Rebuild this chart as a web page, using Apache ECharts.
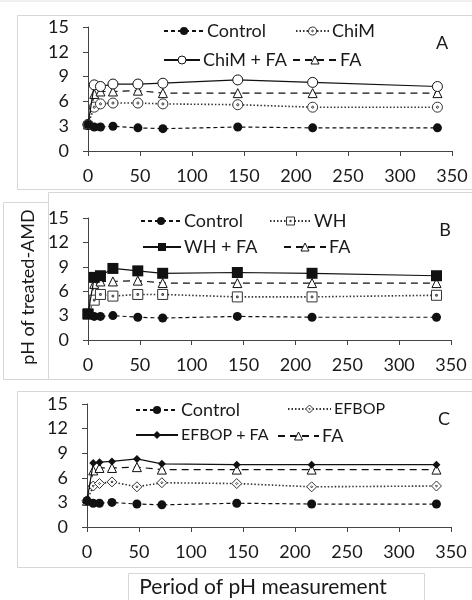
<!DOCTYPE html>
<html>
<head>
<meta charset="utf-8">
<script src="https://cdn.jsdelivr.net/npm/echarts@6/dist/echarts.min.js"></script>
<style>html,body{margin:0;padding:0;background:#fff}#c{width:472px;height:600px}</style>
</head>
<body>
<div id="c"></div>
<script>
// ---- data ----
const hours = [0, 6, 12, 24, 48, 72, 144, 216, 336];
const xTicks = [0, 50, 100, 150, 200, 250, 300, 350];
const yTicks = [0, 3, 6, 9, 12, 15];
const control = [3.2, 2.9, 2.9, 3.0, 2.8, 2.7, 2.9, 2.8, 2.8];
const fa = [3.2, 6.9, 7.2, 7.2, 7.3, 7.0, 7.0, 7.0, 7.0];
const chim = [3.2, 5.3, 5.7, 5.8, 5.8, 5.7, 5.6, 5.3, 5.3];
const chimFA = [3.2, 8.0, 7.8, 8.1, 8.1, 8.2, 8.6, 8.3, 7.8];
const wh = [3.2, 4.9, 5.6, 5.4, 5.6, 5.6, 5.3, 5.3, 5.5];
const whFA = [3.2, 7.7, 7.9, 8.8, 8.5, 8.2, 8.3, 8.2, 7.9];
const efbop = [3.2, 5.0, 5.3, 5.5, 4.9, 5.4, 5.3, 4.9, 5.0];
const efbopFA = [3.2, 7.8, 7.9, 8.0, 8.3, 7.7, 7.6, 7.6, 7.6];
const panelLetters = ['A', 'B', 'C'];
const yTitle = 'pH of treated-AMD';
const xTitle = 'Period of pH measurement';

const FONT = 'Lato';
const FS = 18;
const BLK = '#111';
const TXT = '#1a1a1a';

const dotCircle = 'path://M50,2A48,48 0 1,1 49.9,2Z M50,40A10,10 0 1,1 49.9,40Z';
const dotSquare = 'path://M2,2L98,2L98,98L2,98Z M42,42L58,42L58,58L42,58Z';
const dotDiamond = 'path://M50,2L98,50L50,98L2,50Z M50,40L60,50L50,60L40,50Z';

const grids = [
  {left: 88, top: 27, width: 364, height: 124},
  {left: 88, top: 218, width: 363, height: 122},
  {left: 87, top: 404, width: 364, height: 123}
];

function zipXY(vals) { return hours.map((h, i) => [h, vals[i]]); }

const styles = {
  control: {line: {type: [4, 3], width: 1.2, color: BLK}, item: {color: BLK, borderColor: BLK, borderWidth: 0}},
  fa: {line: {type: [7, 5], width: 1.2, color: BLK}, item: {color: '#fff', borderColor: BLK, borderWidth: 1}},
  treat: {line: {type: [1.5, 2], width: 1.6, color: '#333'}},
  treatFA: {line: {type: 'solid', width: 1.2, color: BLK}}
};

const openItem = {color: '#fff', borderColor: '#333', borderWidth: 1};
const panels = [
  {treat: 'ChiM', tv: chim, tsym: dotCircle, tsize: 10, tItem: openItem,
   fav: chimFA, fsym: 'circle', fsize: 10, fItem: {color: '#fff', borderColor: BLK, borderWidth: 1},
   leg: [[163, 32, 40], [295, 32, 33], [163, 61, 36], [292, 61, 44]], lfs: [FS, FS, FS, FS]},
  {treat: 'WH', tv: wh, tsym: dotSquare, tsize: 10, tItem: openItem,
   fav: whFA, fsym: 'rect', fsize: 11, fItem: {color: BLK, borderColor: BLK, borderWidth: 0},
   leg: [[140, 222, 40], [269, 222, 41], [142, 248, 38], [283, 248, 42]], lfs: [FS, FS, FS, FS]},
  {treat: 'EFBOP', tv: efbop, tsym: dotDiamond, tsize: 10, tItem: openItem,
   fav: efbopFA, fsym: 'diamond', fsize: 8, fItem: {color: BLK, borderColor: BLK, borderWidth: 0},
   leg: [[135, 411, 42], [287, 411, 43], [135, 437, 42], [277, 437, 41]], lfs: [FS, 16, 16, FS]}
];

const option = {
  animation: false,
  backgroundColor: '#fff',
  textStyle: {fontFamily: FONT},
  grid: grids.map(g => Object.assign({containLabel: false}, g)),
  xAxis: grids.map((g, i) => ({
    type: 'value', gridIndex: i, min: 0, max: 350, interval: 50,
    axisLine: {lineStyle: {color: '#444', width: 1}},
    axisTick: {show: true, length: 5, inside: false, lineStyle: {color: '#444'}},
    axisLabel: {color: TXT, fontSize: FS, fontFamily: FONT, margin: 16,
      formatter: v => xTicks.includes(v) ? String(v) : ''},
    splitLine: {show: false}
  })),
  yAxis: grids.map((g, i) => ({
    type: 'value', gridIndex: i, min: 0, max: 15, interval: 3,
    axisLine: {show: true, lineStyle: {color: '#444', width: 1}},
    axisTick: {show: true, length: 5, lineStyle: {color: '#444'}},
    axisLabel: {color: TXT, fontSize: FS, fontFamily: FONT, margin: 19,
      formatter: v => yTicks.includes(v) ? String(v) : ''},
    splitLine: {show: false}
  })),
  legend: [],
  series: [],
  graphic: []
};

panels.forEach((p, i) => {
  const defs = [
    {name: 'Control', data: control, st: styles.control.line, sym: 'circle', size: 9, item: styles.control.item, z: 6},
    {name: p.treat, data: p.tv, st: styles.treat.line, sym: p.tsym, size: p.tsize, item: p.tItem, z: 3},
    {name: p.treat + ' + FA', data: p.fav, st: styles.treatFA.line, sym: p.fsym, size: p.fsize, item: p.fItem, z: 4},
    {name: 'FA', data: fa, st: styles.fa.line, sym: 'triangle', size: 9, item: styles.fa.item, z: 3}
  ];
  defs.forEach((d, k) => {
    option.series.push({
      type: 'line', id: 'p' + i + '_' + k, name: d.name, xAxisIndex: i, yAxisIndex: i,
      data: zipXY(d.data), symbol: d.sym, symbolSize: d.size, showAllSymbol: true,
      lineStyle: d.st, itemStyle: d.item, z: d.z
    });
    const L = p.leg[k];
    option.legend.push({
      data: [{name: d.name, itemStyle: Object.assign({}, d.item)}],
      left: L[0], top: L[1] - 10, itemWidth: L[2], itemHeight: 10, itemGap: 0,
      padding: 0, selectedMode: false,
      textStyle: {fontFamily: FONT, fontSize: p.lfs[k], color: TXT, padding: [0, 0, 0, -2]}
    });
  });
});

const letterPos = [[442, 43], [445, 230], [444, 419]];
panelLetters.forEach((t, i) => {
  option.graphic.push({type: 'text', x: letterPos[i][0], y: letterPos[i][1],
    style: {text: t, font: FS + 'px ' + FONT, fill: TXT, textAlign: 'center', textVerticalAlign: 'middle'}, z: 10});
});

option.graphic.push(
  {type: 'line', shape: {x1: 0, y1: 1, x2: 472, y2: 1}, style: {stroke: '#e2e2e2', lineWidth: 1}, z: -5},
  {type: 'rect', shape: {x: 17.5, y: 15.5, width: 470, height: 174}, style: {fill: '#fff', stroke: '#d6d6d6', lineWidth: 1}, z: -5},
  {type: 'rect', shape: {x: 48.5, y: 192.5, width: 440, height: 187}, style: {fill: '#fff', stroke: '#d6d6d6', lineWidth: 1}, z: -5},
  {type: 'rect', shape: {x: 3.5, y: 202.5, width: 45, height: 177}, style: {fill: '#fff', stroke: '#d6d6d6', lineWidth: 1}, z: -4},
  {type: 'rect', shape: {x: 17.5, y: 391.5, width: 470, height: 176}, style: {fill: '#fff', stroke: '#d6d6d6', lineWidth: 1}, z: -5},
  {type: 'rect', shape: {x: 128.5, y: 573.5, width: 296, height: 40}, style: {fill: '#fff', stroke: '#d6d6d6', lineWidth: 1}, z: -5},
  {type: 'text', x: 263, y: 587, style: {text: xTitle, font: '21px ' + FONT, fill: TXT, textAlign: 'center', textVerticalAlign: 'middle'}, z: 10},
  {type: 'text', x: 28, y: 287, rotation: Math.PI / 2, style: {text: yTitle, font: '18px ' + FONT, fill: TXT, textAlign: 'center', textVerticalAlign: 'middle'}, z: 10}
);

const chart = echarts.init(document.getElementById('c'), null, {renderer: 'canvas'});
chart.setOption(option);
</script>
</body>
</html>
